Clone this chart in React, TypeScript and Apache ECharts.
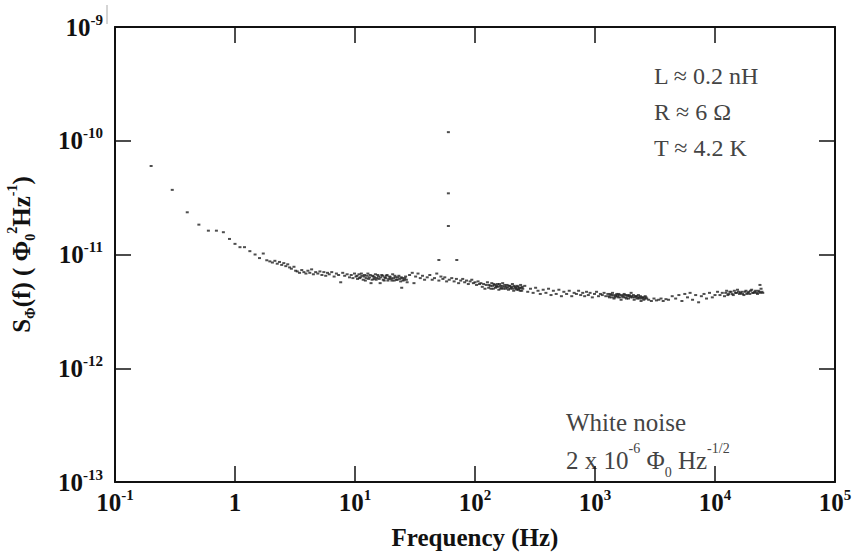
import React, { useEffect, useRef } from "react";
import * as echarts from "echarts";

// PSD values are in units of 1e-12 Φ0² Hz⁻¹
const UNIT = 1e-12;

const lowFreqPoints: number[][] = [
  [0.2, 60], [0.3, 37], [0.4, 23.5], [0.5, 18.3], [0.6, 16.2], [0.7, 16.2], [0.8, 15.7],
  [0.9, 13.7], [1.0, 12.4], [1.1, 11.6], [1.2, 11.6], [1.33, 10.7], [1.47, 10.0], [1.6, 9.3],
  [1.72, 10.2], [1.84, 8.9], [1.95, 8.7], [2.05, 8.5], [2.15, 8.8], [2.25, 8.3], [2.35, 8.6],
  [2.45, 8.1], [2.55, 8.4], [2.65, 7.9], [2.75, 8.2], [2.85, 7.7], [2.95, 7.5], [3.1, 7.8], [3.2, 7.2],
];

const band1to30: number[][] = [
  [3.3, 7.1], [3.45, 6.9], [3.6, 7.3], [3.75, 7.0], [3.9, 6.8], [4.05, 7.2], [4.2, 6.9], [4.35, 7.4],
  [4.5, 6.7], [4.7, 7.0], [4.9, 6.8], [5.1, 7.1], [5.3, 6.6], [5.5, 7.0], [5.7, 6.5], [5.9, 6.9],
  [6.1, 6.7], [6.4, 7.0], [6.7, 6.4], [7.0, 6.8], [7.3, 6.6], [7.6, 5.7], [7.9, 6.9], [8.2, 6.5],
  [8.6, 6.7], [9.0, 6.3], [9.3, 6.6], [9.6, 6.2], [9.9, 6.8], [10.2, 6.4], [10.5, 6.1], [10.8, 6.7],
  [11.1, 6.3], [11.4, 6.5], [11.7, 6.0], [12.0, 6.6], [12.4, 6.2], [12.8, 6.8], [13.2, 6.3],
  [13.6, 5.6], [14.0, 6.5], [14.4, 6.1], [14.8, 6.7], [15.2, 6.2], [15.7, 6.4], [16.2, 5.6],
  [16.7, 6.6], [17.2, 6.0], [17.7, 6.3], [18.2, 6.5], [18.8, 5.9], [19.4, 6.4], [20, 6.1],
  [20.6, 6.7], [21.2, 5.9], [21.8, 6.3], [22.5, 6.0], [23.2, 6.5], [24, 5.8], [24.5, 5.1],
  [24.8, 6.2], [25.6, 6.0], [26.4, 6.4], [27.2, 5.7],
];

const dense10to27: number[][] = [
  [10.4, 6.5], [10.9, 6.2], [11.3, 6.8], [11.9, 6.4], [12.2, 5.9], [12.6, 6.5], [13.0, 6.1],
  [13.4, 6.6], [13.9, 6.0], [14.2, 6.4], [14.6, 6.3], [15.0, 6.0], [15.5, 6.6], [15.9, 6.1],
  [16.4, 6.3], [17.0, 6.5], [17.5, 5.9], [18.0, 6.2], [18.5, 6.6], [19.1, 6.1], [19.7, 6.3],
  [20.3, 5.9], [20.9, 6.2], [21.5, 6.5], [22.1, 6.0], [22.8, 6.3], [23.6, 6.1], [24.3, 6.3],
  [25.2, 5.9], [26.0, 6.2], [26.8, 6.0],
];

const band30to250: number[][] = [
  [28.5, 6.6], [30, 6.9], [31, 5.6], [32, 6.4], [33.5, 6.8], [35, 6.2], [36.5, 6.5], [38, 6.0],
  [40, 6.3], [42, 6.6], [44, 6.0], [46, 6.2], [48, 6.8], [50, 5.9], [52, 6.4], [54, 6.1], [56, 6.3],
  [58, 5.8], [61, 6.0], [64, 6.2], [67, 5.8], [70, 6.1], [73, 5.6], [76, 5.9], [79, 6.1], [82, 5.7],
  [85, 5.9], [88, 5.5], [91, 5.8], [94, 6.0], [97, 5.6], [100, 5.7], [103, 5.4], [106, 5.8],
  [109, 5.5], [112, 5.6], [115, 5.2], [118, 5.5], [121, 5.0], [124, 5.4], [127, 5.7], [130, 5.1],
  [134, 5.3], [138, 5.6], [142, 5.0], [146, 5.4], [150, 5.2], [154, 5.5], [158, 4.9], [162, 5.3],
  [166, 5.1], [170, 5.6], [175, 5.2], [180, 5.0], [185, 5.4], [190, 4.9], [195, 5.3], [200, 5.1],
  [205, 5.5], [210, 4.8], [215, 5.2], [220, 5.0], [225, 5.3], [230, 4.9], [235, 5.1], [240, 5.4],
  [245, 4.8], [250, 5.0],
];

const dense130to250: number[][] = [
  [131, 5.4], [136, 5.0], [140, 5.3], [144, 5.5], [148, 5.1], [152, 5.3], [156, 5.2], [160, 5.5],
  [164, 5.0], [168, 5.3], [172, 5.0], [177, 5.4], [182, 5.2], [187, 5.1], [192, 5.3], [197, 5.0],
  [202, 5.2], [207, 5.0], [212, 5.3], [218, 5.1], [223, 4.9], [228, 5.2], [232, 5.0], [238, 4.8],
  [243, 5.1], [248, 5.2],
];

const band250to3k: number[][] = [
  [260, 5.3], [275, 4.7], [290, 5.0], [305, 4.6], [320, 5.1], [335, 4.8], [350, 4.5], [370, 4.9],
  [390, 4.6], [410, 5.0], [430, 4.4], [450, 4.8], [475, 4.5], [500, 4.9], [525, 4.3], [550, 4.7],
  [580, 4.5], [610, 4.8], [640, 4.3], [670, 4.6], [700, 4.5], [730, 4.8], [760, 4.4], [790, 4.6],
  [820, 4.3], [850, 4.7], [880, 4.4], [910, 4.6], [950, 4.2], [990, 4.5], [1030, 4.7], [1070, 4.3],
  [1110, 4.5], [1150, 4.4], [1190, 4.6], [1230, 4.3], [1280, 4.5], [1320, 4.2], [1360, 4.4],
  [1400, 4.6], [1440, 4.1], [1480, 4.3], [1520, 4.5], [1560, 4.2], [1600, 4.4], [1650, 4.0],
  [1700, 4.3], [1750, 4.5], [1800, 4.2], [1850, 4.4], [1900, 4.1], [1950, 4.3], [2000, 4.6],
  [2060, 4.2], [2120, 4.0], [2180, 4.3], [2240, 4.1], [2300, 4.4], [2360, 4.2], [2420, 3.9],
  [2480, 4.2], [2550, 4.0], [2620, 4.3], [2700, 4.1],
];

const dense1300to2700: number[][] = [
  [1300, 4.3], [1340, 4.5], [1380, 4.2], [1420, 4.4], [1460, 4.2], [1500, 4.4], [1540, 4.3],
  [1580, 4.5], [1620, 4.2], [1680, 4.4], [1730, 4.2], [1780, 4.4], [1830, 4.1], [1880, 4.3],
  [1930, 4.4], [1980, 4.2], [2030, 4.3], [2090, 4.4], [2150, 4.2], [2210, 4.3], [2270, 4.2],
  [2330, 4.1], [2390, 4.3], [2450, 4.1], [2520, 4.2], [2590, 4.1], [2660, 4.2],
];

const band3kto25k: number[][] = [
  [2800, 4.0], [2950, 3.9], [3100, 4.1], [3250, 3.95], [3400, 4.0], [3550, 4.1], [3700, 3.9],
  [3900, 4.05], [4100, 4.0], [4400, 4.3], [4700, 4.1], [5000, 4.4], [5300, 3.9], [5600, 4.5],
  [5900, 4.2], [6200, 4.6], [6500, 4.0], [6900, 4.4], [7300, 3.8], [7700, 4.3], [8100, 4.5],
  [8500, 4.1], [9000, 4.6], [9500, 4.2], [10000, 4.4], [10500, 4.7], [11000, 4.4], [11500, 4.6],
  [12000, 4.3], [12500, 4.8], [13000, 4.5], [13600, 4.7], [14200, 4.4], [14800, 4.6], [15400, 4.9],
  [16000, 4.5], [16700, 4.7], [17400, 4.4], [18100, 4.8], [18800, 4.6], [19500, 4.5], [20200, 4.9],
  [21000, 4.6], [21800, 4.8], [22600, 4.5], [23400, 4.7], [23700, 5.4], [24200, 5.0], [25000, 4.6],
];

const dense12kto25k: number[][] = [
  [12300, 4.6], [12800, 4.4], [13300, 4.7], [13900, 4.5], [14500, 4.8], [15100, 4.6], [15700, 4.7],
  [16300, 4.6], [17000, 4.5], [17700, 4.7], [18400, 4.5], [19100, 4.7], [19800, 4.8], [20600, 4.6],
  [21400, 4.7], [22200, 4.6], [23000, 4.8], [23800, 4.6], [24600, 4.7],
];

const spikePoints: number[][] = [
  [50, 8.95], [60, 119], [60, 34.5], [60, 17.8], [70.5, 8.95],
];

const allPoints = [
  ...lowFreqPoints, ...band1to30, ...dense10to27, ...band30to250, ...dense130to250,
  ...band250to3k, ...dense1300to2700, ...band3kto25k, ...dense12kto25k, ...spikePoints,
].map(([f, s]) => [f, s * UNIT]);

const serif = "'Liberation Serif', 'DejaVu Serif', serif";
const ink = "#111";
const gray = "#444";

const expLabel = (v: number, showOne: boolean) => {
  const e = Math.round(Math.log10(v));
  if (showOne && e === 0) return "{b|1}";
  return `{b|10}{s|${e}}`;
};

const labelRich = {
  b: { fontFamily: serif, fontWeight: "bold", fontSize: 25, color: ink, lineHeight: 30 },
  s: { fontFamily: serif, fontWeight: "bold", fontSize: 15, color: ink, lineHeight: 16, verticalAlign: "top" },
};

export default function App() {
  const ref = useRef<HTMLDivElement>(null);
  useEffect(() => {
    if (!ref.current) return;
    const chart = echarts.init(ref.current, null, { renderer: "svg" });
    const axisLine = { show: true, lineStyle: { color: ink, width: 2 } };
    const axisTick = { show: true, inside: true, length: 16, lineStyle: { color: ink, width: 1.5 } };
    chart.setOption({
      animation: false,
      backgroundColor: "#fff",
      grid: { left: 115, right: 26, top: 27, bottom: 72, outerBoundsMode: "none", containLabel: false },
      xAxis: [
        {
          type: "log", logBase: 10, min: 0.1, max: 1e5, splitNumber: 6,
          axisLine, axisTick, splitLine: { show: false }, minorTick: { show: false },
          axisLabel: { margin: 5, formatter: (v: number) => expLabel(v, true), rich: labelRich },
          name: "Frequency (Hz)", nameLocation: "middle", nameGap: 43,
          nameTextStyle: { fontFamily: serif, fontWeight: "bold", fontSize: 25, color: ink },
        },
        {
          type: "log", logBase: 10, min: 0.1, max: 1e5, splitNumber: 6, position: "top",
          axisLine, axisTick, splitLine: { show: false }, axisLabel: { show: false },
        },
      ],
      yAxis: [
        {
          type: "log", logBase: 10, min: 1e-13, max: 1e-9, splitNumber: 4,
          axisLine, axisTick, splitLine: { show: false },
          axisLabel: { margin: 12, formatter: (v: number) => expLabel(v, false), rich: labelRich },
          name: "{m|S}{sub|Φ}{m|(f) ( Φ}{sub|0}{sup|2}{m|Hz}{sup|-1}{m|)}",
          nameLocation: "middle", nameGap: 78, nameRotate: 90,
          nameTextStyle: {
            rich: {
              m: { fontFamily: serif, fontWeight: "bold", fontSize: 25, color: ink, lineHeight: 32 },
              sub: { fontFamily: serif, fontWeight: "bold", fontSize: 14, color: ink, lineHeight: 14, verticalAlign: "bottom" },
              sup: { fontFamily: serif, fontWeight: "bold", fontSize: 14, color: ink, lineHeight: 14, verticalAlign: "top" },
            },
          },
        },
        {
          type: "log", logBase: 10, min: 1e-13, max: 1e-9, splitNumber: 4, position: "right",
          axisLine, axisTick, splitLine: { show: false }, axisLabel: { show: false },
        },
      ],
      graphic: [
        {
          type: "text", left: 654, top: 58,
          style: {
            text: "L ≈ 0.2 nH\nR ≈ 6 Ω\nT ≈ 4.2 K",
            fontFamily: serif, fontSize: 24, lineHeight: 36, fill: gray,
          },
        },
        {
          type: "text", left: 566, top: 410,
          style: {
            text: "{t|White noise}\n{t|2 x 10}{s|-6}{t| Φ}{d|0}{t| Hz}{s|-1/2}",
            fontFamily: serif, fontSize: 25, fill: gray,
            rich: {
              t: { fontFamily: serif, fontSize: 25, fill: gray, color: gray, lineHeight: 38 },
              s: { fontFamily: serif, fontSize: 14, fill: gray, color: gray, lineHeight: 14, verticalAlign: "top" },
              d: { fontFamily: serif, fontSize: 14, fill: gray, color: gray, lineHeight: 14, verticalAlign: "bottom" },
            },
          },
        },
        {
          type: "line", shape: { x1: 107, y1: 5, x2: 107, y2: 24 },
          style: { stroke: "#aaa", lineWidth: 1 },
        },
      ],
      series: [
        {
          type: "scatter",
          xAxisIndex: 0, yAxisIndex: 0,
          data: allPoints,
          symbol: "rect",
          symbolSize: [3, 2],
          itemStyle: { color: "#222" },
        },
      ],
    });
    return () => chart.dispose();
  }, []);
  return <div ref={ref} style={{ width: 861, height: 554, position: "absolute", left: 0, top: 0 }} />;
}
